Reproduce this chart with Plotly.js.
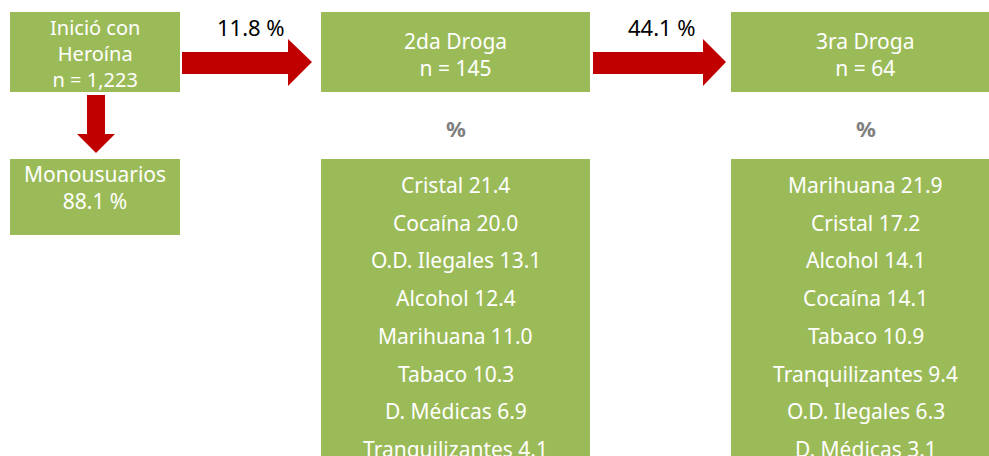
<!DOCTYPE html>
<html>
<head>
<meta charset="utf-8">
<script src="https://cdn.plot.ly/plotly-3.0.1.min.js"></script>
<style>
  html, body { margin: 0; padding: 0; background: #fff; }
  #chart { width: 989px; height: 456px; }
</style>
</head>
<body>
<div id="chart"></div>
<script>
// ---- datos ----
const startLines = ['Inició con', 'Heroína'];
const startN = '1,223';
const monoLabel = 'Monousuarios';
const monoPct = '88.1';
const pctTo2 = '11.8';
const pctTo3 = '44.1';
const stageNames = ['2da Droga', '3ra Droga'];
const stageN = ['145', '64'];
const drugs2 = ['Cristal', 'Cocaína', 'O.D. Ilegales', 'Alcohol', 'Marihuana', 'Tabaco', 'D. Médicas', 'Tranquilizantes'];
const vals2 = ['21.4', '20.0', '13.1', '12.4', '11.0', '10.3', '6.9', '4.1'];
const drugs3 = ['Marihuana', 'Cristal', 'Alcohol', 'Cocaína', 'Tabaco', 'Tranquilizantes', 'O.D. Ilegales', 'D. Médicas'];
const vals3 = ['21.9', '17.2', '14.1', '14.1', '10.9', '9.4', '6.3', '3.1'];

// ---- estilo / geometría ----
const GREEN = '#9BBB59', RED = '#C00000', FONT = '"Noto Sans", "Open Sans", sans-serif';
const COLS = [[10, 180], [321, 590], [731, 1000]];  // x de cada columna
const TOP = [12, 92], BOT_Y0 = 159;
const ROW0 = 185, ROWSTEP = 37.7;

const rect = (x0, x1, y0, y1) => ({ type: 'rect', xref: 'x', yref: 'y', x0, x1, y0, y1, fillcolor: GREEN, line: { width: 0 }, layer: 'below' });
const path = d => ({ type: 'path', xref: 'x', yref: 'y', path: d, fillcolor: RED, line: { width: 0 } });
function rightArrow(xs, xh, xt) {
  return path(`M${xs},52 L${xh},52 L${xh},39 L${xt},62 L${xh},86 L${xh},74 L${xs},74 Z`);
}

const shapes = [
  rect(COLS[0][0], COLS[0][1], TOP[0], TOP[1]),
  rect(COLS[0][0], COLS[0][1], BOT_Y0, 235),
  rect(COLS[1][0], COLS[1][1], TOP[0], TOP[1]),
  rect(COLS[1][0], COLS[1][1], BOT_Y0, 470),
  rect(COLS[2][0], COLS[2][1], TOP[0], TOP[1]),
  rect(COLS[2][0], COLS[2][1], BOT_Y0, 470),
  rightArrow(182, 288, 312),
  rightArrow(593, 703, 726),
  path('M87,95 L105,95 L105,134 L115,134 L96,153 L77,134 L87,134 Z')
];

const ann = [];
function txt(x, y, text, color, size, bold) {
  ann.push({ x, y, xref: 'x', yref: 'y', text: bold ? '<b>' + text + '</b>' : text, showarrow: false,
    xanchor: 'center', yanchor: 'middle', font: { family: FONT, size, color, weight: bold ? 700 : 400 } });
}
const cx = c => (COLS[c][0] + COLS[c][1]) / 2;

// columna 1
txt(cx(0), 53, startLines.concat('n = ' + startN).join('<br>'), '#fff', 20);
txt(cx(0), 187, monoLabel + '<br>' + monoPct + ' %', '#fff', 21);
// flechas
txt(251, 27, pctTo2 + ' %', '#000', 22);
txt(662, 27, pctTo3 + ' %', '#000', 22);
// columnas 2 y 3
[[drugs2, vals2], [drugs3, vals3]].forEach(([names, vals], k) => {
  const c = k + 1;
  txt(cx(c), 54, stageNames[k] + '<br>n = ' + stageN[k], '#fff', 21);
  txt(cx(c), 128, '%', '#7f7f7f', 22, true);
  names.forEach((nm, i) => txt(cx(c), ROW0 + i * ROWSTEP, nm + ' ' + vals[i], '#fff', 21));
});

const layout = {
  width: 989, height: 456, margin: { l: 0, r: 0, t: 0, b: 0 },
  paper_bgcolor: '#fff', plot_bgcolor: '#fff', showlegend: false,
  xaxis: { range: [0, 989], visible: false, fixedrange: true },
  yaxis: { range: [456, 0], visible: false, fixedrange: true },
  shapes, annotations: ann
};
Plotly.newPlot('chart', [], layout, { displayModeBar: false, staticPlot: true });
</script>
</body>
</html>
